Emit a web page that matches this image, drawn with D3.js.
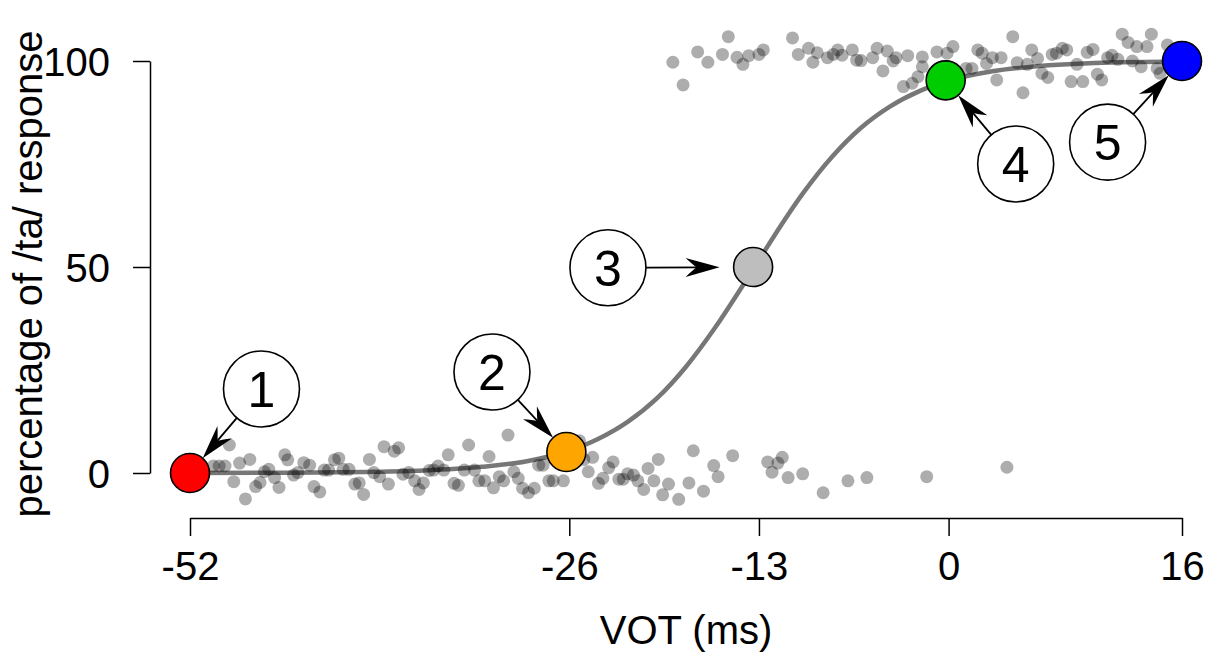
<!DOCTYPE html>
<html><head><meta charset="utf-8">
<script src="https://cdn.jsdelivr.net/npm/d3@7"></script>
<style>
html,body{margin:0;padding:0;background:#fff;}
svg{display:block;font-family:"Liberation Sans",Arial,Helvetica,sans-serif;}
</style></head>
<body>
<svg id="chart" width="1213" height="655"></svg>
<script>
// ---- data ----
const xTicks = [-52, -26, -13, 0, 16];
const yTicks = [0, 50, 100];
const xLabel = "VOT (ms)";
const yLabel = "percentage of /ta/ response";

// individual responses (VOT ms, % /ta/)
const pointVOT = [
 -49.3,-50.4,-50.0,-49.6,-48.6,-47.9,-49.0,-48.2,-47.5,-47.2,-46.9,-46.6,-46.2,-45.9,-45.5,-45.3,-44.9,-44.6,-44.2,-43.8,
 -43.5,-43.1,-42.8,-42.5,-42.1,-41.8,-41.5,-41.1,-40.7,-40.4,-40.1,-39.7,-39.4,-39.0,-38.7,-38.0,-37.7,-38.4,-37.4,-37.0,
 -36.6,-36.3,-36.0,-35.6,-35.3,-35.0,-34.6,-34.3,-33.9,-33.6,-33.2,-32.9,-30.2,-31.5,-32.5,-32.2,-31.8,-31.2,-30.8,-30.5,
 -29.8,-29.5,-29.2,-28.8,-28.4,-28.1,-27.8,-27.4,-27.1,-26.4,-25.3,-25.0,-24.4,-24.7,-24.0,-23.7,-23.3,-23.0,-22.6,-22.3,
 -22.0,-21.6,-21.3,-20.9,-20.6,-20.2,-19.9,-19.6,-19.2,-18.5,-17.8,-17.5,-16.8,-16.1,-15.8,-14.8,-12.4,-12.1,-11.7,-11.4,
 -11.0,-10.0,-8.6,-6.9,-5.6,-1.5,4.0,
 -18.9,-18.2,-17.2,-16.5,-15.5,-15.1,-14.5,-14.1,-13.7,-13.0,-12.7,-10.7,-10.3,-9.6,-9.3,-9.0,-8.3,-7.9,-7.6,-7.3,
 -6.6,-6.3,-6.0,-5.2,-4.9,-4.5,-4.2,-3.8,-3.6,-2.8,-1.8,-3.1,-2.5,-2.1,-0.8,-0.1,0.3,-1.8,1.2,1.6,
 2.0,2.3,2.6,3.0,3.6,3.3,4.4,4.7,5.4,5.1,5.7,6.1,6.4,6.8,7.1,7.4,7.8,8.1,8.4,9.2,
 8.8,9.5,9.9,10.2,10.5,10.9,11.2,11.6,11.9,12.3,12.6,12.9,13.6,13.2,13.9,14.3,14.5,15.0
];
const pointPct = [
 6.8,1.7,1.7,1.7,2.4,3.3,-2.1,-6.3,-3.3,-2.3,0.3,0.9,-1.1,-3.5,4.4,3.2,-0.5,0.1,2.5,1.9,
 -3.3,-4.6,0.7,0.7,3.2,3.6,0.9,0.9,-2.7,-2.4,-5.2,3.3,0.1,-0.9,6.4,5.3,6.1,-2.7,-0.3,0.1,
 -1.9,-4.0,-2.4,0.6,0.7,1.7,0.7,4.4,-2.5,-3.0,0.7,6.8,9.2,4.0,0.7,-1.9,-1.9,-3.6,-0.9,-1.9,
 0.3,-1.3,-3.7,-4.8,-3.7,1.9,1.9,-1.9,-1.9,-1.9,7.8,3.3,3.8,0.3,-2.5,-1.3,1.3,2.7,-1.5,-1.5,
 -0.2,-0.5,-1.9,-4.0,1.1,-1.9,3.3,-5.3,-2.7,-6.4,-2.4,5.4,-4.4,1.8,-0.9,4.2,2.7,0.2,2.4,3.8,
 -1.1,-0.2,-4.8,-1.9,-1.1,-0.9,1.4,
 99.7,94.2,102.2,99.7,101.6,105.9,100.9,99.2,101.3,101.6,102.7,105.6,101.6,103.1,99.7,102.0,100.8,101.6,102.7,101.4,
 102.7,100.2,100.1,100.8,103.1,97.6,102.4,100.0,100.8,101.3,101.0,93.8,94.6,96.2,102.2,101.9,103.5,98.6,98.2,98.2,
 102.7,101.9,99.4,100.8,100.8,95.4,105.9,99.6,99.2,92.3,102.7,100.6,97.0,96.0,101.6,101.9,103.1,102.7,95.0,95.0,
 99.2,102.1,102.8,96.8,95.4,100.8,101.4,100.4,106.5,104.5,100.0,103.5,103.5,98.6,106.5,98.2,97.0,103.9
];

// fitted identification curve
const curveVOT = [-52,-45,-40,-36,-32,-29,-26,-24,-22,-20,-18,-16,-14,-13,-12,-10,-8,-6,-4,-2,0,3,6,10,16];
const curvePct = [0.02,0.08,0.25,0.6,1.5,2.8,5.4,8.3,12.4,18.1,25.8,35.3,46.1,51.7,57.3,67.8,76.7,83.8,89.0,92.7,95.2,97.5,98.7,99.5,99.86];

// highlighted stimuli
const stimVOT = [-52, -26.2, -13.4, -0.2, 16];
const stimPct = [0, 5.1, 50, 95.3, 100];
const stimColor = ["#ff0000", "#ffa500", "#bebebe", "#00cd00", "#0000ff"];
const stimName = ["1", "2", "3", "4", "5"];
// numbered callout positions (data units)
const calloutVOT = [-47.1, -31.3, -23.35, 4.6, 10.9];
const calloutPct = [20.4, 24.5, 49.8, 75.0, 80.3];
const arrowGap = [0, 0, 14, 0, 0];

// ---- layout ----
const svg = d3.select("#chart");
const x = d3.scaleLinear().domain([-52, 16]).range([190, 1182]);
const y = d3.scaleLinear().domain([0, 100]).range([473, 61]);
const FS = 40;

// axes
const xAxis = svg.append("g").attr("transform", "translate(0,518)")
  .call(d3.axisBottom(x).tickValues(xTicks).tickSize(18).tickSizeOuter(0).tickPadding(16).tickFormat(d => String(d)));
const yAxis = svg.append("g").attr("transform", "translate(150,0)")
  .call(d3.axisLeft(y).tickValues(yTicks).tickSize(17).tickSizeOuter(0).tickPadding(23).tickFormat(d => String(d)));
[xAxis, yAxis].forEach(a => {
  a.selectAll("path.domain").attr("stroke", "#000").attr("stroke-width", 1.5);
  a.selectAll(".tick line").attr("stroke", "#000").attr("stroke-width", 1.5);
  a.selectAll(".tick text").attr("fill", "#000").style("font-size", FS + "px")
   .style("font-family", '"Liberation Sans", Arial, sans-serif');
});
yAxis.selectAll(".tick text").attr("dy", "0.35em");

svg.append("text").attr("x", 686).attr("y", 644).attr("text-anchor", "middle")
  .style("font-size", FS + "px").text(xLabel);
svg.append("text").attr("transform", "translate(42,274) rotate(-90)").attr("text-anchor", "middle")
  .style("font-size", "40px").text(yLabel);

// curve
const line = d3.line().x((d, i) => x(curveVOT[i])).y(d => y(d)).curve(d3.curveMonotoneX);
svg.append("path").attr("d", line(curvePct)).attr("fill", "none")
  .attr("stroke", "#777").attr("stroke-width", 4.5);

// scatter
svg.append("g").selectAll("circle").data(pointVOT).join("circle")
  .attr("cx", d => x(d)).attr("cy", (d, i) => y(pointPct[i])).attr("r", 6.5)
  .attr("fill", "#000").attr("fill-opacity", 0.32);

// arrows + callouts
const R_CALL = 38, R_STIM = 19.5;
const ag = svg.append("g");
stimVOT.forEach((v, i) => {
  const cx = x(calloutVOT[i]), cy = y(calloutPct[i]);
  const tx = x(v), ty = y(stimPct[i]);
  const dx = tx - cx, dy = ty - cy, L = Math.hypot(dx, dy);
  const ux = dx / L, uy = dy / L;
  const sx = cx + ux * R_CALL, sy = cy + uy * R_CALL;
  const ex = tx - ux * (R_STIM + arrowGap[i]), ey = ty - uy * (R_STIM + arrowGap[i]);
  const ang = Math.atan2(uy, ux) * 180 / Math.PI;
  ag.append("line").attr("x1", sx).attr("y1", sy).attr("x2", ex - ux * 20).attr("y2", ey - uy * 20)
    .attr("stroke", "#000").attr("stroke-width", 1.8);
  ag.append("path").attr("d", "M0,0 L-34,-9.5 Q-27,-3 -23,0 Q-27,3 -34,9.5 Z")
    .attr("transform", `translate(${ex},${ey}) rotate(${ang})`).attr("fill", "#000");
  ag.append("circle").attr("cx", cx).attr("cy", cy).attr("r", R_CALL)
    .attr("fill", "#fff").attr("stroke", "#000").attr("stroke-width", 1.6);
  ag.append("text").attr("x", cx).attr("y", cy).attr("dy", "0.36em").attr("text-anchor", "middle")
    .style("font-size", "50px").text(stimName[i]);
});

// highlighted stimuli
svg.append("g").selectAll("circle").data(stimVOT).join("circle")
  .attr("cx", d => x(d)).attr("cy", (d, i) => y(stimPct[i])).attr("r", R_STIM)
  .attr("fill", (d, i) => stimColor[i]).attr("stroke", "#000").attr("stroke-width", 1.6);
</script>
</body></html>
